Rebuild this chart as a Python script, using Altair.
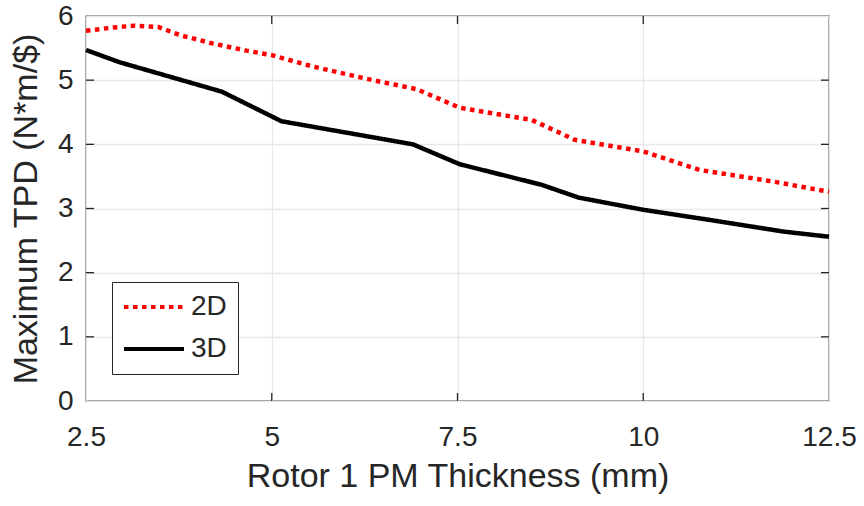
import altair as alt
import pandas as pd

# ---- data ----
x2d = [2.5, 2.86, 3.16, 3.47, 3.77, 4.21, 4.66, 5.0, 5.56, 6.36, 6.95, 7.53, 8.5, 9.08, 10.0, 10.76, 11.75, 12.5]
y2d = [5.77, 5.82, 5.85, 5.83, 5.70, 5.57, 5.46, 5.39, 5.21, 5.00, 4.86, 4.57, 4.38, 4.07, 3.89, 3.60, 3.42, 3.26]

x3d = [2.5, 2.95, 4.33, 5.13, 6.9, 7.53, 8.63, 9.13, 10.0, 10.85, 11.89, 12.5]
y3d = [5.47, 5.28, 4.82, 4.36, 4.00, 3.69, 3.37, 3.17, 2.98, 2.83, 2.64, 2.56]

series_names = ["2D", "3D"]
x_ticks = [2.5, 5, 7.5, 10, 12.5]
y_ticks = [0, 1, 2, 3, 4, 5, 6]
x_inner_ticks = [5, 7.5, 10]
y_inner_ticks = [1, 2, 3, 4, 5]

W, H = 743, 385
FONT = "Liberation Sans"
TXT = "#262626"

df = pd.concat([
    pd.DataFrame({"x": x2d, "y": y2d, "s": "2D"}),
    pd.DataFrame({"x": x3d, "y": y3d, "s": "3D"}),
], ignore_index=True)

xscale = alt.Scale(domain=[2.5, 12.5], nice=False, zero=False)
yscale = alt.Scale(domain=[0, 6], nice=False)

leg = alt.Legend(title=None, orient="none", legendX=26, legendY=266)

lines = alt.Chart(df).mark_line(strokeWidth=4.5, strokeCap="butt", strokeJoin="round").encode(
    x=alt.X("x:Q", scale=xscale,
            axis=alt.Axis(values=x_ticks, format="~g", title="Rotor 1 PM Thickness (mm)",
                          grid=True, ticks=False, domain=False, labelPadding=22,
                          labelFlush=False, labelOverlap=False, titlePadding=8)),
    y=alt.Y("y:Q", scale=yscale,
            axis=alt.Axis(values=y_ticks, format="d", title="Maximum TPD (N*m/$)",
                          grid=True, ticks=False, domain=False, labelPadding=13,
                          labelOverlap=False, titlePadding=14)),
    color=alt.Color("s:N", scale=alt.Scale(domain=series_names, range=["#ff0000", "#000000"]), legend=leg),
    strokeDash=alt.StrokeDash("s:N", scale=alt.Scale(domain=series_names, range=[[4.5, 4.5], [1, 0]]), legend=leg),
    detail="s:N",
)

tdx = pd.DataFrame({"x": x_inner_ticks})
tdy = pd.DataFrame({"y": y_inner_ticks})
tick_style = dict(color=TXT, strokeWidth=1.3)
xb = alt.Chart(tdx).mark_rule(**tick_style).encode(x=alt.X("x:Q", scale=xscale), y=alt.value(H), y2=alt.value(H - 8))
xt = alt.Chart(tdx).mark_rule(**tick_style).encode(x=alt.X("x:Q", scale=xscale), y=alt.value(0), y2=alt.value(8))
yl = alt.Chart(tdy).mark_rule(**tick_style).encode(y=alt.Y("y:Q", scale=yscale), x=alt.value(0), x2=alt.value(8))
yr = alt.Chart(tdy).mark_rule(**tick_style).encode(y=alt.Y("y:Q", scale=yscale), x=alt.value(W), x2=alt.value(W - 8))

chart = alt.layer(lines, xb, xt, yl, yr).properties(
    width=W, height=H,
    padding={"left": 86, "top": 16, "right": 35, "bottom": 105},
    autosize=alt.AutoSizeParams(type="none"),
    background="white",
).configure_view(
    stroke=TXT, strokeWidth=1.3
).configure_axis(
    labelFont=FONT, labelFontSize=28, labelColor=TXT,
    titleFont=FONT, titleFontSize=34, titleColor=TXT, titleFontWeight="normal",
    gridColor="#e8e8e8", gridWidth=1.3,
).configure_legend(
    labelFont=FONT, labelFontSize=28, labelColor=TXT,
    symbolType="M-1.3,0H4.7", symbolSize=400, symbolStrokeWidth=4,
    strokeColor=TXT, fillColor="white", padding=11, rowPadding=14,
    labelOffset=40,
)

chart.save("out.html", embed_options={"renderer": "svg", "actions": False})
